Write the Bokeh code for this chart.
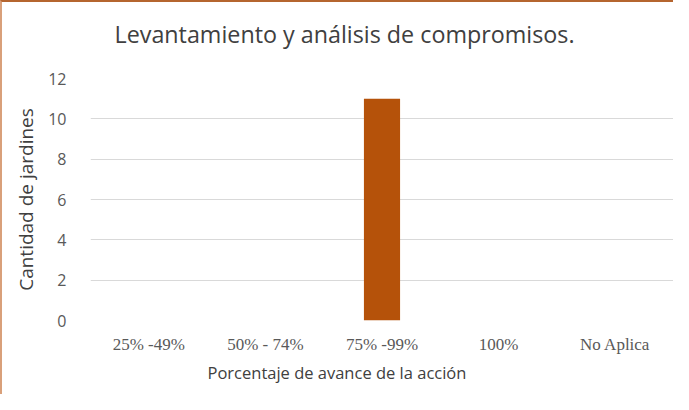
from bokeh.plotting import figure
from bokeh.embed import file_html
from bokeh.resources import INLINE
from bokeh.models import ColumnDataSource, FixedTicker, Title

categories = ["25% -49%", "50% - 74%", "75% -99%", "100%", "No Aplica"]
values = [0, 0, 11, 0, 0]
y_ticks = [0, 2, 4, 6, 8, 10, 12]

src = ColumnDataSource(dict(cat=categories, val=values))

p = figure(x_range=categories, y_range=(0, 12), width=673, height=394,
           output_backend="svg", toolbar_location=None,
           min_border_left=88, min_border_right=2, min_border_bottom=76, min_border_top=10)
p.styles = {"border-top": "2px solid #B5652F", "border-left": "2px solid #D9A07A"}

p.vbar(x="cat", top="val", width=0.31, source=src, color="#B5520A", line_color=None)

p.title.text = "Levantamiento y análisis de compromisos."
p.title.align = "left"
p.title.offset = 24
p.title.text_font = "Open Sans"
p.title.text_font_style = "normal"
p.title.text_font_size = "23.3px"
p.title.text_color = "#404040"
p.title.standoff = 27

spacer = Title(text=" ", text_font_size="1px", standoff=12)
p.add_layout(spacer, "above")

p.outline_line_color = None
p.xgrid.grid_line_color = None
p.ygrid.grid_line_color = "#D9D9D9"
p.ygrid.grid_line_width = 1
p.yaxis.ticker = FixedTicker(ticks=y_ticks)

for ax in (p.xaxis, p.yaxis):
    ax.axis_line_color = None
    ax.major_tick_line_color = None
    ax.minor_tick_line_color = None

p.yaxis.major_label_text_font = "Open Sans"
p.yaxis.major_label_text_font_size = "16px"
p.yaxis.major_label_text_color = "#595959"
p.yaxis.major_label_standoff = 18
p.yaxis.axis_label = "Cantidad de jardines"
p.yaxis.axis_label_text_font = "Open Sans"
p.yaxis.axis_label_text_font_style = "normal"
p.yaxis.axis_label_text_font_size = "19px"
p.yaxis.axis_label_text_color = "#404040"
p.yaxis.axis_label_standoff = 6

p.xaxis.major_label_text_font = "Liberation Serif"
p.xaxis.major_label_text_font_size = "17px"
p.xaxis.major_label_text_color = "#595959"
p.xaxis.major_label_standoff = 8

xlabel = Title(text="Porcentaje de avance de la acción", align="left", offset=117,
               text_font="Open Sans", text_font_style="normal", text_font_size="16.5px",
               text_color="#404040", standoff=4)
p.add_layout(xlabel, "below")

open("out.html", "w").write(file_html(p, INLINE))
